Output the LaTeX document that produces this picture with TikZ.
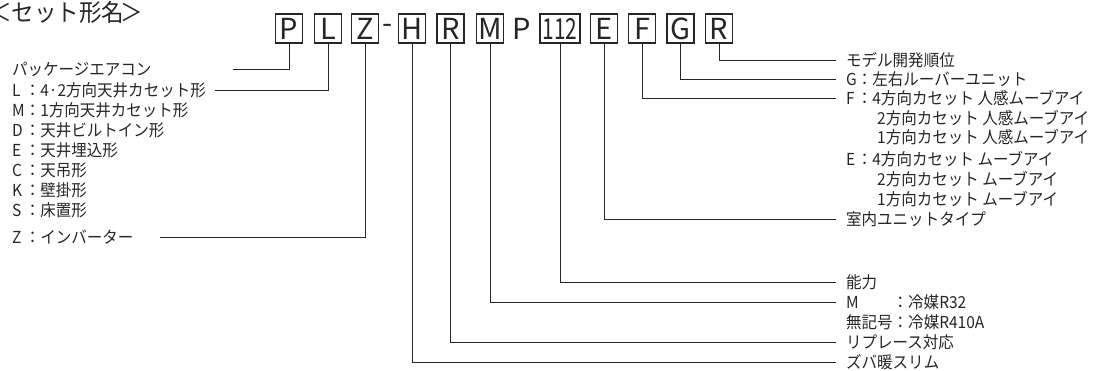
\documentclass[tikz,border=0pt]{standalone}
\usepackage{fontspec}
\setmainfont{Noto Sans CJK JP}[FakeStretch=0.94]
\newfontfamily\fullfont{Noto Sans CJK JP}[FakeStretch=0.94]
\newfontfamily\boxfont{Noto Sans CJK JP}
\newfontfamily\numfont{Noto Sans CJK JP}[FakeStretch=0.72]
\usetikzlibrary{positioning}
\def\cl{{\fullfont ：}}
\def\lk#1{\rlap{#1}\hphantom{M}\cl}
\def\rk#1{\rlap{#1}\hphantom{G}\cl}

\begin{document}
\begin{tikzpicture}[x=1pt,y=-1pt,
cbox/.style={draw=black!85, line width=1.5pt, minimum width=27pt, minimum height=29pt, inner sep=0pt, text=black!85, font=\boxfont\fontsize{29}{30}\selectfont},
plain/.style={inner sep=0pt, text=black!85, font=\boxfont\fontsize{29}{30}\selectfont},
lbl/.style={anchor=west, inner sep=0pt, text height=13pt, text depth=0.5pt, text=black!85, font=\fontsize{16.5}{19}\selectfont},
conn/.style={draw=black!85, line width=0.8pt}
]
\useasboundingbox (0,0) rectangle (1095,370);
% Create the title
\node[anchor=west, inner sep=0pt, text=black!85, font=\fontsize{24}{26}\selectfont] (title) at (-11,12) {＜セット形名\kern-4pt＞};
% Create the model name
\node[cbox] (bP) at (289,28.5) {P};
\node[cbox] (bL) at (328,28.5) {L};
\node[cbox] (bZ) at (365,28.5) {Z};
\node[plain] (dash) at (388,28.5) {-};
\node[cbox] (bH) at (412,28.5) {H};
\node[cbox] (bR) at (450.5,28.5) {R};
\node[cbox] (bM) at (490,28.5) {M};
\node[plain] (pP) at (522,28.5) {P};
\node[cbox, minimum width=40pt, font=\numfont\fontsize{29}{30}\selectfont] (b112) at (560,28.5) {112};
\node[cbox] (bE) at (604,28.5) {E};
\node[cbox] (bF) at (642,28.5) {F};
\node[cbox] (bG) at (680.5,28.5) {G};
\node[cbox] (bR2) at (719,28.5) {R};
% Left labels
\node[lbl] (tPkg) at (12,69) {パッケージエアコン};
\node[lbl] (tL) at (12,90) {\lk{L}4·2方向天井カセット形};
\node[lbl] (tM) at (12,110) {\lk{M}1方向天井カセット形};
\node[lbl] (tD) at (12,130) {\lk{D}天井ビルトイン形};
\node[lbl] (tE) at (12,150) {\lk{E}天井埋込形};
\node[lbl] (tC) at (12,170) {\lk{C}天吊形};
\node[lbl] (tK) at (12,190) {\lk{K}壁掛形};
\node[lbl] (tS) at (12,210) {\lk{S}床置形};
\node[lbl] (tZ) at (12,237.5) {\lk{Z}インバーター};
\coordinate (cPkg) at (233,69);
\coordinate (cL) at (215,90);
\coordinate (cZ) at (160,237.5);
% Right labels
\node[lbl] (tModel) at (846,60.5) {モデル開発順位};
\node[lbl] (tG) at (846,79.5) {\rk{G}左右ルーバーユニット};
\node[lbl] (tF) at (846,98.5) {\rk{F}4方向カセット 人感ムーブアイ};
\node[lbl] (tF2) at (877,118) {2方向カセット 人感ムーブアイ};
\node[lbl] (tF3) at (877,137.5) {1方向カセット 人感ムーブアイ};
\node[lbl] (tE2) at (846,159) {\rk{E}4方向カセット ムーブアイ};
\node[lbl] (tE2b) at (877,179) {2方向カセット ムーブアイ};
\node[lbl] (tE2c) at (877,199) {1方向カセット ムーブアイ};
\node[lbl] (tUnit) at (846,219) {室内ユニットタイプ};
\node[lbl] (tCap) at (846,282) {能力};
\node[lbl] (tRef) at (846,302) {\rlap{M}\hphantom{無記号}\cl 冷媒R32};
\node[lbl] (tRef2) at (846,322) {無記号\cl 冷媒R410A};
\node[lbl] (tRepl) at (846,342.5) {リプレース対応};
\node[lbl] (tSlim) at (846,362) {ズバ暖スリム};
% Create the connectors
\draw[conn] (bP.south) |- (cPkg);
\draw[conn] (bL.south) |- (cL);
\draw[conn] (bZ.south) |- (cZ);
\draw[conn] (bH.south) |- ([xshift=-10pt]tSlim.west);
\draw[conn] (bR.south) |- ([xshift=-10pt]tRepl.west);
\draw[conn] (bM.south) |- ([xshift=-10pt]tRef.west);
\draw[conn] (b112.south) |- ([xshift=-10pt]tCap.west);
\draw[conn] (bE.south) |- ([xshift=-10pt]tUnit.west);
\draw[conn] (bF.south) |- ([xshift=-10pt]tF.west);
\draw[conn] (bG.south) |- ([xshift=-10pt]tG.west);
\draw[conn] (bR2.south) |- ([xshift=-10pt]tModel.west);
\end{tikzpicture}
\end{document}
